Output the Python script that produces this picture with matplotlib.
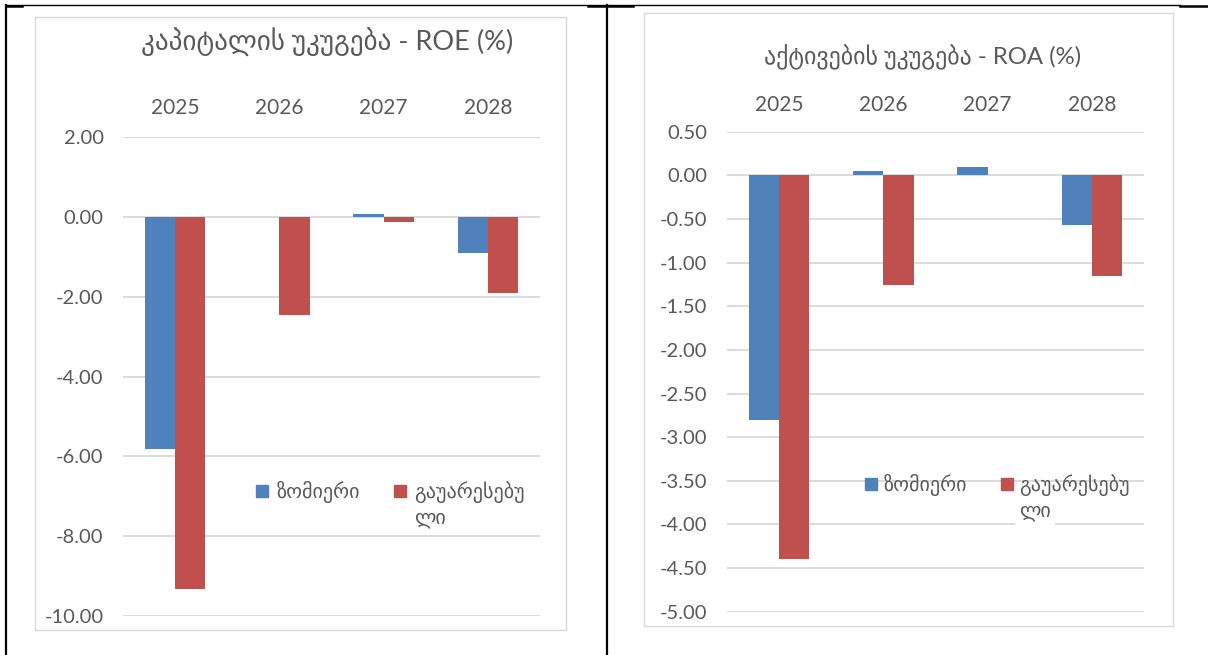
import matplotlib
matplotlib.use("Agg")
import matplotlib.pyplot as plt
import numpy as np
from matplotlib.patches import Patch, Rectangle
from matplotlib.lines import Line2D

plt.rcParams['font.family'] = ['Lato', 'DejaVu Sans']

# ---------------- data ----------------
years = ['2025', '2026', '2027', '2028']
series_names = ['ზომიერი', 'გაუარესებული']

roe_moderate = [-5.81, 0.00, 0.06, -0.91]
roe_adverse = [-9.33, -2.47, -0.14, -1.92]

roa_moderate = [-2.80, 0.05, 0.09, -0.57]
roa_adverse = [-4.40, -1.26, 0.00, -1.15]

roe_title = 'კაპიტალის უკუგება - ROE (%)'
roa_title = 'აქტივების უკუგება - ROA (%)'

roe_ticks = [2, 0, -2, -4, -6, -8, -10]
roa_ticks = [0.5, 0, -0.5, -1, -1.5, -2, -2.5, -3, -3.5, -4, -4.5, -5]

# ---------------- style ----------------
BLUE = '#4F81BD'
RED = '#C0504D'
GRID = '#D9D9D9'
TXT = '#595959'

W, H = 1208, 655
fig = plt.figure(figsize=(W / 100, H / 100), dpi=100)
fig.patch.set_facecolor('white')


def fx(px):
    return px / W


def fy(py):
    return 1 - py / H


# table borders
def hline(x0, x1, y, lw):
    fig.add_artist(Line2D([fx(x0), fx(x1)], [fy(y), fy(y)], color='black',
                          lw=lw, transform=fig.transFigure))


def vline(x, y0, y1, lw):
    fig.add_artist(Line2D([fx(x), fx(x)], [fy(y0), fy(y1)], color='black',
                          lw=lw, transform=fig.transFigure))


hline(6, 1180, 5, 1.0)
hline(1180, 1208, 5.5, 1.8)
hline(6, 22, 5.5, 1.8)
hline(588, 633, 5.5, 1.8)
vline(6, 5, 655, 1.6)
vline(607, 5, 655, 1.6)

# chart frames
for (x0, y0, x1, y1) in [(35, 17, 566, 630), (644, 13, 1173, 626)]:
    fig.add_artist(Rectangle((fx(x0), fy(y1)), fx(x1) - fx(x0), fy(y0) - fy(y1),
                             transform=fig.transFigure, facecolor='none',
                             edgecolor=GRID, lw=1.0))


def draw_chart(rect, moderate, adverse, ticks, ylim, title, title_xy, title_fs,
               leg_xy, leg_colsp, leg_textpad, xpad):
    ax = fig.add_axes(rect)
    x = np.arange(len(years))
    bw = 0.29
    ax.bar(x - bw / 2, moderate, width=bw, color=BLUE, zorder=3, label=series_names[0])
    ax.bar(x + bw / 2, adverse, width=bw, color=RED, zorder=3, label=series_names[1])
    ax.set_xlim(-0.5, len(years) - 0.5)
    ax.set_ylim(*ylim)
    ax.set_yticks(ticks)
    ax.set_yticklabels([f'{t:.2f}' for t in ticks])
    ax.yaxis.grid(True, color=GRID, lw=1.3, zorder=0)
    ax.set_axisbelow(True)
    for s in ax.spines.values():
        s.set_visible(False)
    ax.xaxis.tick_top()
    ax.set_xticks(x)
    ax.set_xticklabels(years)
    ax.tick_params(axis='x', length=0, pad=xpad, labelsize=15, labelcolor=TXT)
    ax.tick_params(axis='y', length=0, pad=14, labelsize=14.5, labelcolor=TXT)
    ax.set_facecolor('none')

    fig.text(fx(title_xy[0]), fy(title_xy[1]), title, ha='center', va='center',
             fontsize=title_fs, color=TXT)

    handles = [Patch(color=BLUE), Patch(color=RED)]
    labels = [series_names[0], 'გაუარესებუ']
    leg = ax.legend(handles, labels, ncol=2, loc='upper left',
                    bbox_to_anchor=(fx(leg_xy[0]), fy(leg_xy[1])),
                    bbox_transform=fig.transFigure, frameon=False,
                    borderpad=0, borderaxespad=0, handlelength=0.6,
                    handleheight=0.6, handletextpad=leg_textpad,
                    columnspacing=leg_colsp, fontsize=14.5)
    for t in leg.get_texts():
        t.set_color(TXT)
    return ax, leg


ax1, leg1 = draw_chart([fx(123), fy(616), fx(540) - fx(123), fy(137) - fy(616)],
                       roe_moderate, roe_adverse, roe_ticks, (-10, 2),
                       roe_title, (327, 42), 19.5, (256, 481), 1.7, 0.4, 14)
ax2, leg2 = draw_chart([fx(727), fy(611.7), fx(1144) - fx(727), fy(131.7) - fy(611.7)],
                       roa_moderate, roa_adverse, roa_ticks, (-5, 0.5),
                       roa_title, (923, 57), 17.2, (865, 474), 1.7, 0.3, 12)

# continuation of the wrapped legend label
fig.canvas.draw()
r = fig.canvas.get_renderer()
for leg in (leg1, leg2):
    t = leg.get_texts()[1]
    bb = t.get_window_extent(r)
    fig.text(bb.x0 / W, (bb.y0 - 8) / H, 'ლი', ha='left', va='top',
             fontsize=14.5, color=TXT, zorder=10,
             bbox=dict(facecolor='white', edgecolor='none', pad=3.0))

fig.savefig('out.png', dpi=100, facecolor='white')
